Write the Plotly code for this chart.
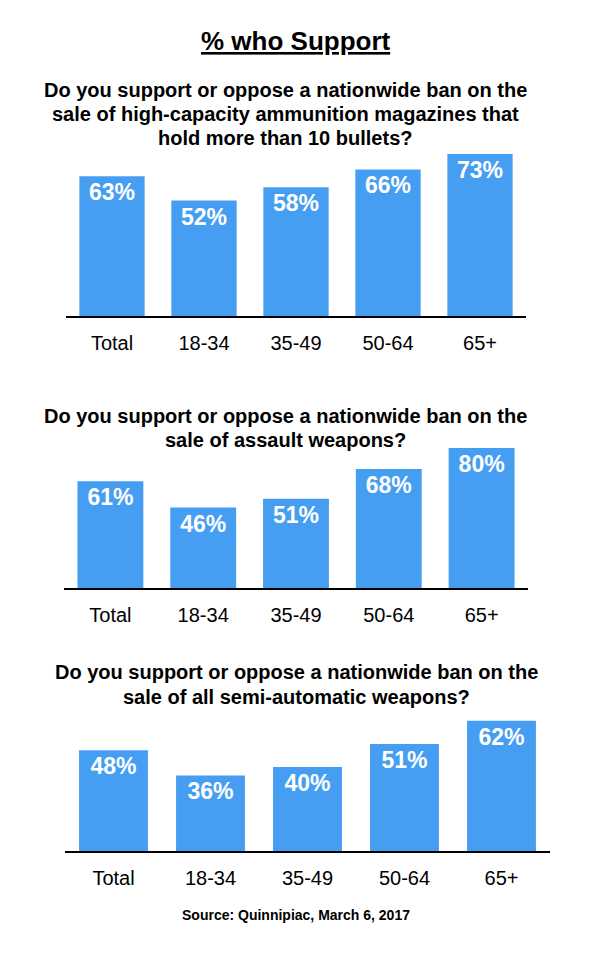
import plotly.graph_objects as go

# ---------------- data ----------------
categories = ["Total", "18-34", "35-49", "50-64", "65+"]
magazines = [63, 52, 58, 66, 73]
assault = [61, 46, 51, 68, 80]
semi_auto = [48, 36, 40, 51, 62]

title_text = "% who Support"
questions = [
    ["Do you support or oppose a nationwide ban on the",
     "sale of high-capacity ammunition magazines that",
     "hold more than 10 bullets?"],
    ["Do you support or oppose a nationwide ban on the",
     "sale of assault weapons?"],
    ["Do you support or oppose a nationwide ban on the",
     "sale of all semi-automatic weapons?"],
]
source_text = "Source: Quinnipiac, March 6, 2017"

# ---------------- layout helpers ----------------
W, H = 614, 962
FONT = "Liberation Sans, Arial, Helvetica, sans-serif"
BLUE = "#469EF3"


def px(x):
    return x / W


def py(y):
    return 1 - y / H


panels = [
    dict(values=magazines, x0=66, x1=526, base=316, scale=2.22, qx=285, qy=[90, 114, 138]),
    dict(values=assault, x0=64, x1=528, base=588, scale=1.75, qx=285, qy=[416, 440]),
    dict(values=semi_auto, x0=65, x1=550, base=851, scale=2.10, qx=296, qy=[672, 697]),
]

fig = go.Figure()
annotations = []
layout_axes = {}

for i, p in enumerate(panels, start=1):
    suffix = "" if i == 1 else str(i)
    fig.add_trace(go.Bar(
        x=categories,
        y=p["values"],
        xaxis="x" + suffix,
        yaxis="y" + suffix,
        marker=dict(color=BLUE, line=dict(width=0)),
        width=0.71,
        text=[f"{v}%" for v in p["values"]],
        textposition="inside",
        insidetextanchor="end",
        textangle=0,
        textfont=dict(family=FONT, size=23, color="white", weight="bold"),
        constraintext="none",
        hoverinfo="skip",
        showlegend=False,
    ))
    top = p["base"] - 100 * p["scale"]
    layout_axes["xaxis" + suffix] = dict(
        domain=[px(p["x0"]), px(p["x1"])],
        anchor="y" + suffix,
        type="category",
        range=[-0.5, 4.5],
        showline=True, linecolor="black", linewidth=1.5,
        showgrid=False, zeroline=False, ticks="",
        ticklabelstandoff=8,
        tickfont=dict(family=FONT, size=20, color="black"),
        fixedrange=True,
    )
    layout_axes["yaxis" + suffix] = dict(
        domain=[py(p["base"]), py(top)],
        anchor="x" + suffix,
        range=[0, 100],
        visible=False,
        fixedrange=True,
    )
    for line, yy in zip(questions[i - 1], p["qy"]):
        annotations.append(dict(
            text=f"<b>{line}</b>", x=px(p["qx"]), y=py(yy),
            xref="paper", yref="paper", xanchor="center", yanchor="middle",
            showarrow=False, font=dict(family=FONT, size=20, color="black"),
        ))

annotations.append(dict(
    text=f"<u><b>{title_text}</b></u>", x=px(296), y=py(41),
    xref="paper", yref="paper", xanchor="center", yanchor="middle",
    showarrow=False, font=dict(family=FONT, size=26, color="black"),
))
annotations.append(dict(
    text=f"<b>{source_text}</b>", x=px(296), y=py(915),
    xref="paper", yref="paper", xanchor="center", yanchor="middle",
    showarrow=False, font=dict(family=FONT, size=14, color="black"),
))

fig.update_layout(
    width=W, height=H,
    margin=dict(l=0, r=0, t=0, b=0),
    paper_bgcolor="white", plot_bgcolor="white",
    annotations=annotations,
    bargap=0.29,
    **layout_axes,
)

fig.write_html(
    "out.html",
    config={"displayModeBar": False},
    post_script="document.body.style.margin='0';document.body.style.overflow='hidden';",
)
